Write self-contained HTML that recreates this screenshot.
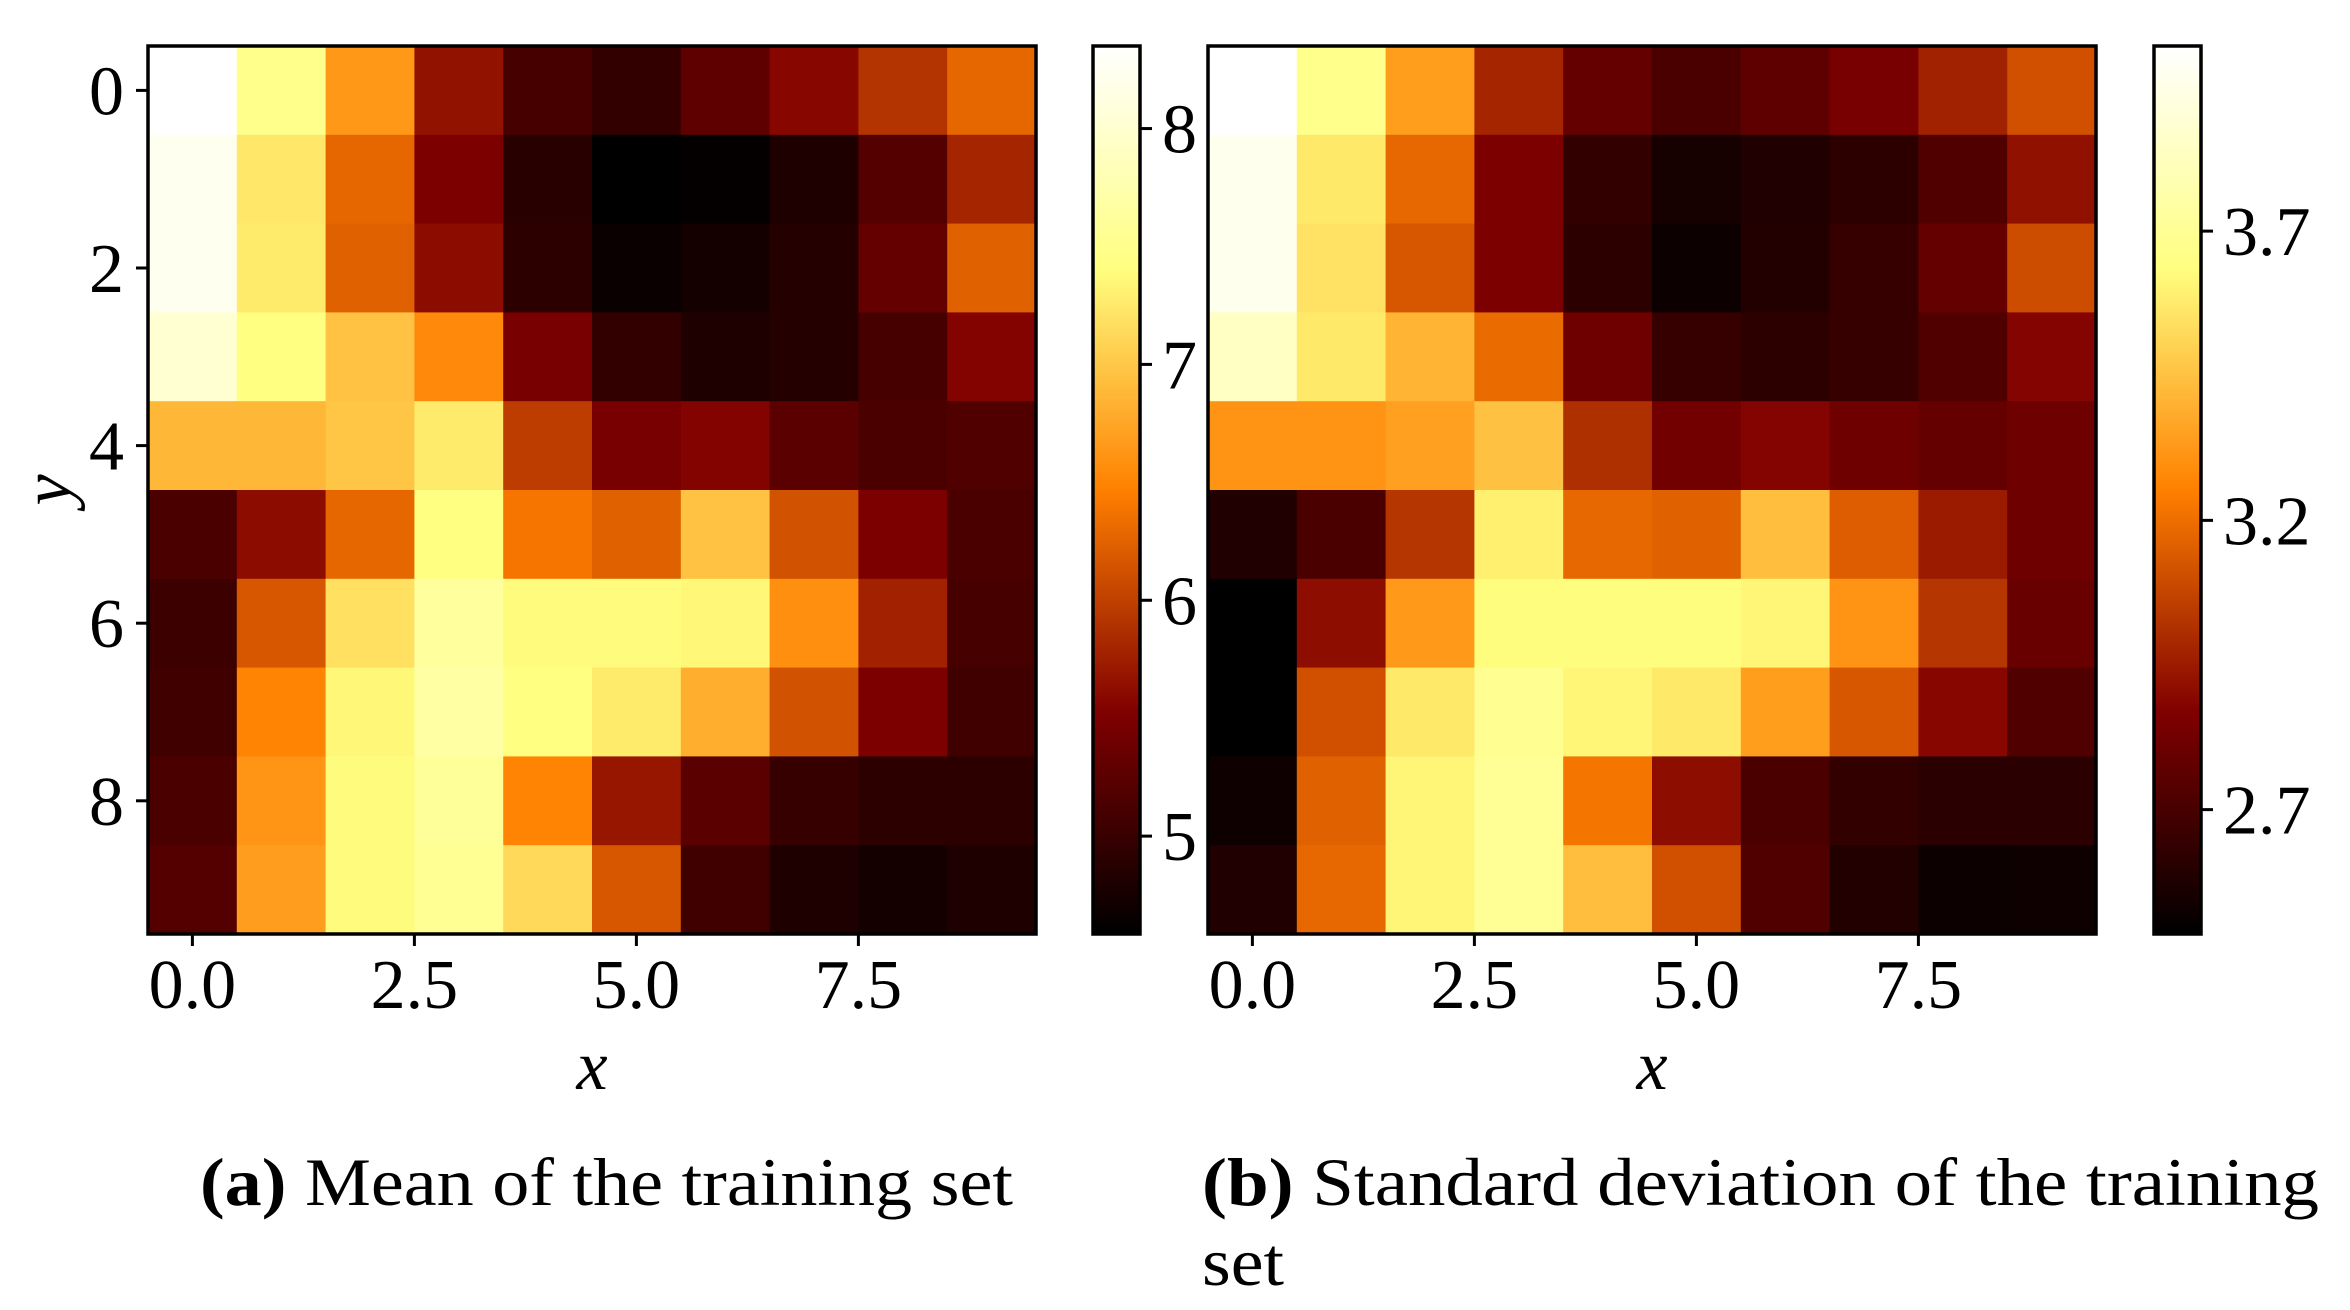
<!DOCTYPE html>
<html><head><meta charset="utf-8">
<style>
html,body{margin:0;padding:0;background:#fff;width:2350px;height:1310px;overflow:hidden}
svg{display:block}
text{font-family:"Liberation Serif",serif;fill:#000}
</style></head>
<body>
<svg id="fig" width="2350" height="1310" xmlns="http://www.w3.org/2000/svg">
<defs>
<linearGradient id="cmapGrad" x1="0" y1="1" x2="0" y2="0">
<stop offset="0" stop-color="#000000"/><stop offset="0.25" stop-color="#800000"/>
<stop offset="0.5" stop-color="#ff8000"/><stop offset="0.75" stop-color="#ffff80"/>
<stop offset="1" stop-color="#ffffff"/>
</linearGradient>
</defs>
<text x="200" y="1205" font-size="68" textLength="813" lengthAdjust="spacingAndGlyphs"><tspan font-weight="bold">(a)</tspan> Mean of the training set</text>
<text x="1202" y="1205" font-size="68" textLength="1117" lengthAdjust="spacingAndGlyphs"><tspan font-weight="bold">(b)</tspan> Standard deviation of the training</text>
<text x="1202" y="1285" font-size="68" textLength="82" lengthAdjust="spacingAndGlyphs">set</text>
</svg>
<script>
const meanValues = [
[8.35,7.50,6.64,5.66,5.10,4.96,5.29,5.58,5.91,6.28],
[8.24,7.24,6.28,5.51,4.89,4.59,4.62,4.81,5.21,5.80],
[8.24,7.26,6.24,5.62,4.92,4.66,4.74,4.85,5.32,6.24],
[8.01,7.43,6.96,6.54,5.47,4.96,4.81,4.85,5.10,5.55],
[6.88,6.88,6.98,7.26,5.98,5.47,5.55,5.25,5.14,5.18],
[5.14,5.62,6.28,7.43,6.39,6.24,6.96,6.13,5.51,5.14],
[5.03,6.17,7.18,7.63,7.39,7.39,7.35,6.58,5.77,5.10],
[5.06,6.50,7.35,7.67,7.43,7.26,6.81,6.13,5.51,5.06],
[5.14,6.62,7.39,7.60,6.50,5.69,5.25,4.99,4.92,4.92],
[5.21,6.69,7.39,7.56,7.13,6.17,5.06,4.81,4.74,4.81]];
const stdValues = [
[4.02,3.67,3.34,2.98,2.79,2.71,2.77,2.85,2.97,3.11],
[3.97,3.57,3.18,2.86,2.64,2.55,2.58,2.62,2.73,2.92],
[3.97,3.55,3.13,2.86,2.62,2.52,2.59,2.65,2.79,3.10],
[3.84,3.57,3.41,3.19,2.82,2.65,2.62,2.65,2.73,2.88],
[3.31,3.31,3.35,3.45,3.01,2.83,2.88,2.82,2.79,2.82],
[2.58,2.71,3.03,3.59,3.18,3.16,3.44,3.15,2.95,2.82],
[2.485,2.91,3.33,3.63,3.63,3.63,3.61,3.31,3.03,2.80],
[2.485,3.11,3.57,3.69,3.61,3.57,3.34,3.13,2.89,2.73],
[2.53,3.16,3.61,3.70,3.22,2.91,2.71,2.64,2.61,2.61],
[2.58,3.18,3.61,3.70,3.44,3.11,2.73,2.59,2.52,2.53]];
const meanRange = [4.585, 8.35];
const stdRange = [2.485, 4.02];
const xTicks = [0, 2.5, 5, 7.5];
const xTickLabels = ["0.0","2.5","5.0","7.5"];
const yTicks = [0, 2, 4, 6, 8];
const meanCbarTicks = [5, 6, 7, 8];
const meanCbarLabels = ["5","6","7","8"];
const stdCbarTicks = [2.7, 3.2, 3.7];
const stdCbarLabels = ["2.7","3.2","3.7"];

const NS = "http://www.w3.org/2000/svg";
const svg = document.getElementById("fig");
function mk(tag, attrs){const e=document.createElementNS(NS,tag);for(const k in attrs)e.setAttribute(k,attrs[k]);svg.appendChild(e);return e;}
function clip(v){return Math.max(0,Math.min(1,v));}
function afmhot(t){t=clip(t);const r=clip(2*t),g=clip(2*t-0.5),b=clip(2*t-1);
 return "rgb("+Math.round(r*255)+","+Math.round(g*255)+","+Math.round(b*255)+")";}

function panel(px, py, size, values, range, cbx, cbw, cbTicks, cbLabels, name, showY){
  const n = values.length, cs = size/n;
  const xs = v => px + (v+0.5)*cs;
  const ys = v => py + (v+0.5)*cs;
  values.forEach((row,i)=>row.forEach((v,j)=>{
    const r = mk("rect",{x:px+j*cs,y:py+i*cs,width:cs+0.6,height:cs+0.6,fill:afmhot((v-range[0])/(range[1]-range[0]))});
    
    
  }));
  const fr = mk("rect",{x:px,y:py,width:size,height:size,fill:"none",stroke:"#000","stroke-width":3.5});
  
  
  xTicks.forEach((t,k)=>{
    const tk = mk("line",{x1:xs(t),x2:xs(t),y1:py+size,y2:py+size+12,stroke:"#000","stroke-width":3});
    
    
    const tx = mk("text",{x:xs(t),y:py+size+74,"font-size":70,"text-anchor":"middle"});
    tx.textContent = xTickLabels[k];
    
    
  });
  const xl = mk("text",{x:px+size/2,y:py+size+155,"font-size":70,"font-style":"italic","text-anchor":"middle"});
  xl.textContent = "x";
  
  
  if(showY){
    yTicks.forEach(t=>{
      const tk = mk("line",{x1:px-12,x2:px,y1:ys(t),y2:ys(t),stroke:"#000","stroke-width":3});
      
      
      const tx = mk("text",{x:px-24,y:ys(t)+24,"font-size":70,"text-anchor":"end"});
      tx.textContent = String(t);
      
      
    });
    const yl = mk("text",{x:0,y:0,"font-size":70,"font-style":"italic","text-anchor":"middle",transform:"translate(70,"+(py+size/2)+") rotate(-90)"});
    yl.textContent = "y";
    
    
  }
  const cb = mk("rect",{x:cbx,y:py,width:cbw,height:size,fill:"url(#cmapGrad)",stroke:"#000","stroke-width":3.5});
  
  
  const cy = v => py + size - (v-range[0])/(range[1]-range[0])*size;
  cbTicks.forEach((t,k)=>{
    const tk = mk("line",{x1:cbx+cbw,x2:cbx+cbw+12,y1:cy(t),y2:cy(t),stroke:"#000","stroke-width":3});
    
    
    const tx = mk("text",{x:cbx+cbw+22,y:cy(t)+24,"font-size":70});
    tx.textContent = cbLabels[k];
    
    
  });
}
panel(148, 46, 888, meanValues, meanRange, 1093, 47, meanCbarTicks, meanCbarLabels, "mean-heatmap", true);
panel(1208, 46, 888, stdValues, stdRange, 2154, 47, stdCbarTicks, stdCbarLabels, "std-heatmap", false);
</script>
</body></html>
